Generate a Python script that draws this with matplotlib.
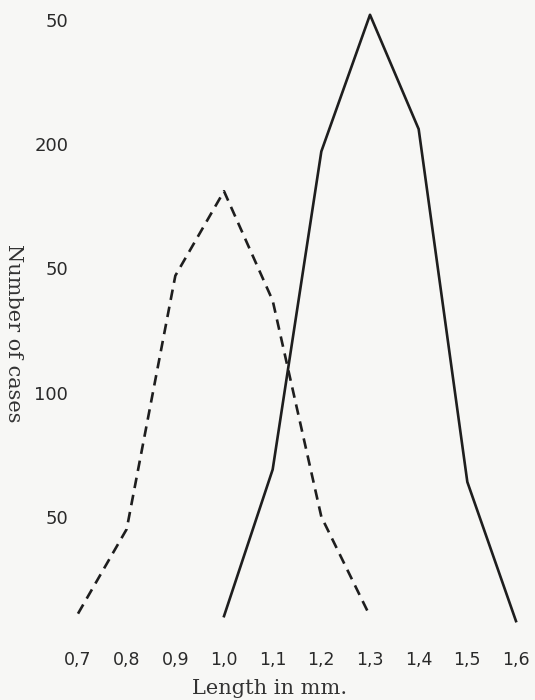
"""Length distribution: two frequency polygons (solid vs dashed)."""

import matplotlib
matplotlib.use("Agg")
import matplotlib.pyplot as plt

# ---------------------------------------------------------------------------
# Data
# ---------------------------------------------------------------------------
length_mm = [0.7, 0.8, 0.9, 1.0, 1.1, 1.2, 1.3, 1.4, 1.5, 1.6]
x_labels = ["0,7", "0,8", "0,9", "1,0", "1,1", "1,2", "1,3", "1,4", "1,5", "1,6"]

dashed_x = [0.7, 0.8, 0.9, 1.0, 1.1, 1.2, 1.3]
dashed_y = [11, 45, 147, 181, 137, 50, 10]

solid_x = [1.0, 1.1, 1.2, 1.3, 1.4, 1.5, 1.6]
solid_y = [10, 69, 197, 252, 206, 64, 8]

y_ticks = [50, 100, 150, 200, 250]
y_labels = ["50", "100", "50", "200", "50"]   # as printed in the scan

BG = "#f7f7f5"
INK = "#1e1e1e"
TEXT = "#2a2a2a"

fig = plt.figure(figsize=(5.35, 7.0), dpi=100, facecolor=BG)
ax = fig.add_axes([78 / 535, 59 / 700, 438 / 535, 621.25 / 700])
ax.set_facecolor(BG)

ax.plot(dashed_x, dashed_y, color=INK, linewidth=1.9,
        linestyle=(0, (4, 2.6)), clip_on=False)
ax.plot(solid_x, solid_y, color=INK, linewidth=1.9, clip_on=False)

ax.set_xlim(0.7, 1.6)
ax.set_ylim(0, 250)
ax.set_xticks(length_mm)
ax.set_xticklabels(x_labels, fontsize=12.5, color=TEXT)
ax.set_yticks(y_ticks)
ax.set_yticklabels(y_labels, fontsize=13, color=TEXT)
ax.tick_params(axis="x", length=0, pad=7)
ax.tick_params(axis="y", length=0, pad=7)
for s in ax.spines.values():
    s.set_visible(False)

fig.text(270 / 535, 1 - 688 / 700, "Length in mm.", ha="center", va="center",
         fontsize=15, family="DejaVu Serif", color="#333333")
fig.text(13 / 535, 1 - 333 / 700, "Number of cases", ha="center", va="center",
         rotation=270, fontsize=15, family="DejaVu Serif", color="#333333")

fig.savefig("out.png", dpi=100, facecolor=BG)
